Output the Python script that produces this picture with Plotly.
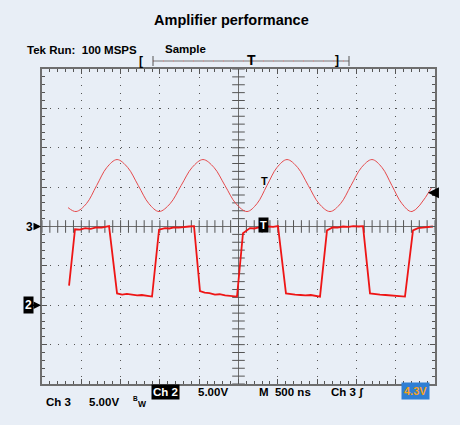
import numpy as np
import plotly.graph_objects as go

# screen: 10 div x 8 div, 500 ns/div, 5 V/div on both channels
time_range = [-2500, 2500]
volt_range = [-20, 20]
ch2_offset = -10  # Ch2 ground marker sits 2 div below centre

# Ch3 - sine (time in ns, volts)
sine_time = [-2169, -2067, -1935, -1805, -1675, -1545, -1410, -1275, -1140,
             -1011, -870, -730, -590, -452, -312, -172, -32,
             108, 235, 362, 490, 617, 752, 888, 1025,
             1164, 1298, 1431, 1565, 1698, 1825, 1952, 2080, 2207, 2461]
sine_volts = [2.4, 1.9, 2.9, 5.2, 7.5, 8.5, 7.5, 5.2, 2.9,
              1.9, 2.9, 5.2, 7.5, 8.5, 7.5, 5.2, 2.9,
              1.9, 2.9, 5.2, 7.5, 8.5, 7.5, 5.2, 2.9,
              1.9, 2.9, 5.2, 7.5, 8.5, 7.5, 5.2, 2.9, 1.9, 5.0]

# Ch2 - square wave (time in ns, volts above its own ground)
sq_time = [-2156, -2080, -2016, -1950, -1880, -1810, -1740, -1680, -1647,
           -1545, -1480, -1420, -1350, -1290, -1230, -1160, -1100,
           -1011, -935, -880, -820, -760, -700, -630, -566,
           -490, -430, -370, -300, -240, -170, -100, -19,
           57, 146, 200, 260, 320, 380, 440, 502,
           604, 660, 720, 790, 850, 920, 980, 1037,
           1126, 1202, 1260, 1330, 1400, 1460, 1530, 1584,
           1673, 1730, 1800, 1870, 1930, 2000, 2060, 2118,
           2220, 2283, 2340, 2400, 2474]
sq_volts = [2.5, 9.65, 9.6, 9.8, 9.7, 9.9, 9.85, 10.0, 10.05,
            1.5, 1.35, 1.45, 1.3, 1.25, 1.3, 1.15, 1.1,
            9.6, 9.8, 9.75, 9.9, 9.85, 9.95, 10.0, 10.05,
            1.8, 1.6, 1.55, 1.35, 1.4, 1.25, 1.2, 1.1,
            9.15, 9.8, 9.75, 9.9, 9.85, 10.0, 9.95, 10.05,
            1.5, 1.4, 1.35, 1.3, 1.25, 1.3, 1.2, 1.1,
            9.5, 9.9, 9.85, 10.0, 9.95, 10.05, 10.0, 10.05,
            1.5, 1.4, 1.35, 1.3, 1.25, 1.2, 1.2, 1.1,
            9.5, 9.8, 9.85, 9.95, 10.0]

trig_level = 4.3

W, H = 460, 425
L, R, T, B = 42, 25, 69, 41
FONT = "Liberation Sans, Arial, sans-serif"
BG = "#e8eef6"
GRID = "#555555"


def px(x, y):
    # pixel position -> paper coords
    return (x - L) / (W - L - R), (H - B - y) / (H - T - B)


fig = go.Figure()

# cross-hair ticks on the centre lines
fig.add_trace(go.Scatter(x=np.arange(-2500, 2501, 100), y=np.zeros(51), mode="markers",
                         marker=dict(symbol="line-ns", size=9, line=dict(width=1, color=GRID)),
                         hoverinfo="skip", showlegend=False))
fig.add_trace(go.Scatter(x=np.zeros(41), y=np.arange(-20, 20.5, 1), mode="markers",
                         marker=dict(symbol="line-ew", size=9, line=dict(width=1, color=GRID)),
                         hoverinfo="skip", showlegend=False))

fig.add_trace(go.Scatter(x=sine_time, y=sine_volts, mode="lines",
                         line=dict(color="#e64a4c", width=1, shape="spline"),
                         showlegend=False))
fig.add_trace(go.Scatter(x=sq_time, y=[v + ch2_offset for v in sq_volts], mode="lines",
                         line=dict(color="#ee1515", width=1.8),
                         showlegend=False))

axis_common = dict(showticklabels=False, showline=True, linecolor="#6e6e6e", linewidth=2,
                   mirror="allticks", ticks="inside", ticklen=5, tickwidth=1, tickcolor=GRID,
                   showgrid=True, gridcolor=GRID, gridwidth=1,
                   zeroline=True, zerolinecolor="#6e6e6e", zerolinewidth=1.2,
                   fixedrange=True)

fig.update_xaxes(range=time_range, dtick=500, griddash="1px,6.86px",
                 minor=dict(dtick=100, ticks="inside", ticklen=3, tickcolor=GRID, showgrid=False),
                 **axis_common)
fig.update_yaxes(range=volt_range, dtick=5, griddash="1px,6.875px",
                 minor=dict(dtick=1, ticks="inside", ticklen=3, tickcolor=GRID, showgrid=False),
                 **axis_common)

ann = []


def text(x, y, s, size=11.5, color="black", bg=None, xanchor="center", pad=1):
    xp, yp = px(x, y)
    ann.append(dict(xref="paper", yref="paper", x=xp, y=yp, text=s, showarrow=False,
                    xanchor=xanchor, yanchor="middle", bgcolor=bg, borderpad=pad,
                    font=dict(family=FONT, size=size, color=color, weight="bold")))


text(25, 50, "Tek Run:&nbsp; 100 MSPS", xanchor="left")
text(163, 49, "Sample", xanchor="left")
text(141, 61, "[", size=12)
text(337, 60, "]", size=12)
text(251.5, 60, "T", size=14)

text(58, 402, "Ch 3")
text(103.5, 402, "5.00V")
text(135, 398, "B", size=6.5)
text(142, 404, "W", size=8.5)
text(165, 392.5, "Ch 2", color="white", bg="black")
text(212.5, 392, "5.00V")
text(284.5, 392, "M&nbsp; 500 ns")
text(347, 392, "Ch 3 ʃ")
text(415, 391, "4.3V", size=11, color="#f7a21b", bg="#2f7fd4", pad=2)

# markers attached to the data
ann.append(dict(x=337, y=5.8, text="T", showarrow=False,
                font=dict(family=FONT, size=11, color="black", weight="bold")))
ann.append(dict(x=318, y=0.2, text="T", showarrow=False, bgcolor="black", borderpad=1,
                font=dict(family=FONT, size=11, color="white", weight="bold")))
ann.append(dict(x=time_range[0], y=0, text="3", ax=-13, ay=0, showarrow=True,
                arrowhead=2, arrowsize=1, arrowwidth=1.5, arrowcolor="black", standoff=1,
                font=dict(family=FONT, size=12, color="black", weight="bold")))
ann.append(dict(x=time_range[0], y=ch2_offset, text="2", ax=-14, ay=0, showarrow=True,
                bgcolor="black", borderpad=1, standoff=1,
                arrowhead=2, arrowsize=1, arrowwidth=1.5, arrowcolor="black",
                font=dict(family=FONT, size=12, color="white", weight="bold")))
ann.append(dict(x=2410, y=trig_level, text="", ax=8, ay=0, showarrow=True,
                arrowhead=2, arrowsize=1.1, arrowwidth=2, arrowcolor="black"))

shapes = []
x0, y0 = px(153, 61)
x1, _ = px(349, 61)
shapes.append(dict(type="line", xref="paper", yref="paper", x0=x0, x1=x1, y0=y0, y1=y0,
                   line=dict(color="#777", width=1)))
shapes.append(dict(type="line", xref="paper", yref="paper", x0=x0, x1=x1, y0=y0, y1=y0,
                   line=dict(color="#f08080", width=1, dash="1px,9px")))
for xx in (153, 349):
    a, b0 = px(xx, 56)
    _, b1 = px(xx, 66)
    shapes.append(dict(type="line", xref="paper", yref="paper", x0=a, x1=a, y0=b0, y1=b1,
                       line=dict(color="#555", width=1)))
a0, g = px(403, 384)
a1, _ = px(427, 384)
shapes.append(dict(type="line", xref="paper", yref="paper", x0=a0, x1=a1, y0=g, y1=g,
                   line=dict(color="#7cc443", width=2)))

fig.update_layout(
    width=W, height=H,
    margin=dict(l=L, r=R, t=T, b=B),
    paper_bgcolor=BG, plot_bgcolor=BG,
    title=dict(text="Amplifier performance", x=0.503, xref="container", xanchor="center",
               y=1 - 20 / H, yref="container", yanchor="middle",
               font=dict(family=FONT, size=14.5, color="black", weight="bold")),
    annotations=ann, shapes=shapes,
)

fig.write_html("out.html", config={"displayModeBar": False},
               post_script="document.body.style.margin='0px';")
